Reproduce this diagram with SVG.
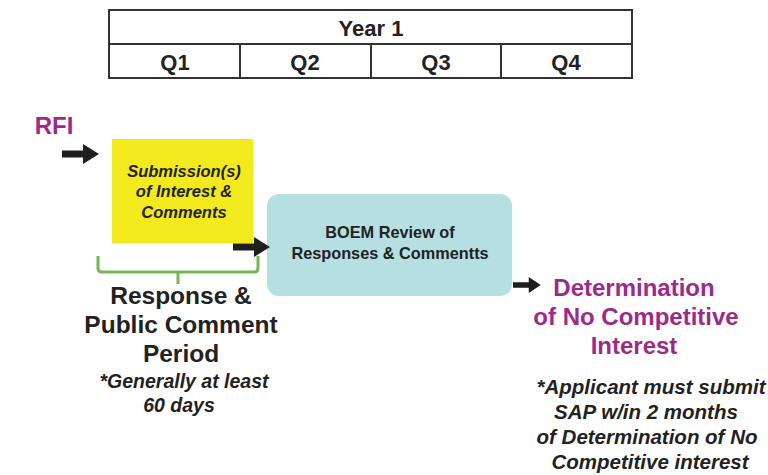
<svg xmlns="http://www.w3.org/2000/svg" width="768" height="475" viewBox="0 0 768 475">
<defs>
<style>
.t{font-family:"Liberation Sans",Arial,sans-serif;font-weight:bold;text-anchor:middle}
.tab{fill:#ffffff;stroke:#333333;stroke-width:2}
.hd{font-size:22px;fill:#222222}
.pur{fill:#9c2a8a}
.it{font-style:italic;fill:#222222}
.arr{fill:#1f1f1f}
</style>
<path id="arrow" d="M0,-3.5 L21,-3.5 L21,-10 L37,0 L21,10 L21,3.5 L0,3.5 Z"/>
</defs>
<rect width="768" height="475" fill="#ffffff"/>
<g id="timeline">
<rect class="tab" x="109" y="10" width="523" height="34"/>
<rect class="tab" x="109" y="44" width="131" height="34"/>
<rect class="tab" x="240" y="44" width="131" height="34"/>
<rect class="tab" x="371" y="44" width="130" height="34"/>
<rect class="tab" x="501" y="44" width="131" height="34"/>
<text class="t hd" x="371" y="36" font-size="23">Year 1</text>
<text class="t hd" x="175" y="70">Q1</text>
<text class="t hd" x="305" y="70">Q2</text>
<text class="t hd" x="436" y="70">Q3</text>
<text class="t hd" x="566" y="70">Q4</text>
</g>
<g id="rfi">
<text class="t pur" x="54" y="134" font-size="24">RFI</text>
</g>
<g id="submissions">
<rect x="112" y="139" width="141" height="104" fill="#f2ea1c"/>
<text class="t it" font-size="16.5" x="184" y="177">Submission(s)</text>
<text class="t it" font-size="16.5" x="184" y="197">of Interest &amp;</text>
<text class="t it" font-size="16.5" x="184" y="218">Comments</text>
</g>
<g id="review">
<rect x="267" y="194" width="245" height="102" rx="12" ry="12" fill="#b5dfe1"/>
<text class="t" font-size="16.3" fill="#222222" x="390" y="238">BOEM Review of</text>
<text class="t" font-size="16.3" fill="#222222" x="390" y="259">Responses &amp; Commentts</text>
</g>
<g id="determination">
<text class="t pur" font-size="24" x="634" y="296">Determination</text>
<text class="t pur" font-size="24" x="636" y="325">of No Competitive</text>
<text class="t pur" font-size="24" x="634" y="354">Interest</text>
<text class="t it" font-size="20.5" x="651" y="394">*Applicant must submit</text>
<text class="t it" font-size="20.5" x="646" y="419">SAP w/in 2 months</text>
<text class="t it" font-size="20.5" x="647" y="444">of Determination of No</text>
<text class="t it" font-size="20.5" x="650" y="469">Competitive interest</text>
</g>
<g id="period">
<path d="M98,256 L98,268 Q98,272 102,272 L254,272 Q258,272 258,268 L258,256 M178,272 L178,284" fill="none" stroke="#78b556" stroke-width="3"/>
<text class="t" font-size="24.5" fill="#222222" x="181" y="304">Response &amp;</text>
<text class="t" font-size="24.5" fill="#222222" x="181" y="333">Public Comment</text>
<text class="t" font-size="24.5" fill="#222222" x="181" y="362">Period</text>
<text class="t it" font-size="19.5" x="184" y="388">*Generally at least</text>
<text class="t it" font-size="19.5" x="179" y="412">60 days</text>
</g>
<g id="connectors">
<use href="#arrow" class="arr" x="62" y="154"/>
<use href="#arrow" class="arr" x="233" y="247"/>
<use href="#arrow" class="arr" transform="translate(513,285) scale(0.75,0.8)"/>
</g>
</svg>
